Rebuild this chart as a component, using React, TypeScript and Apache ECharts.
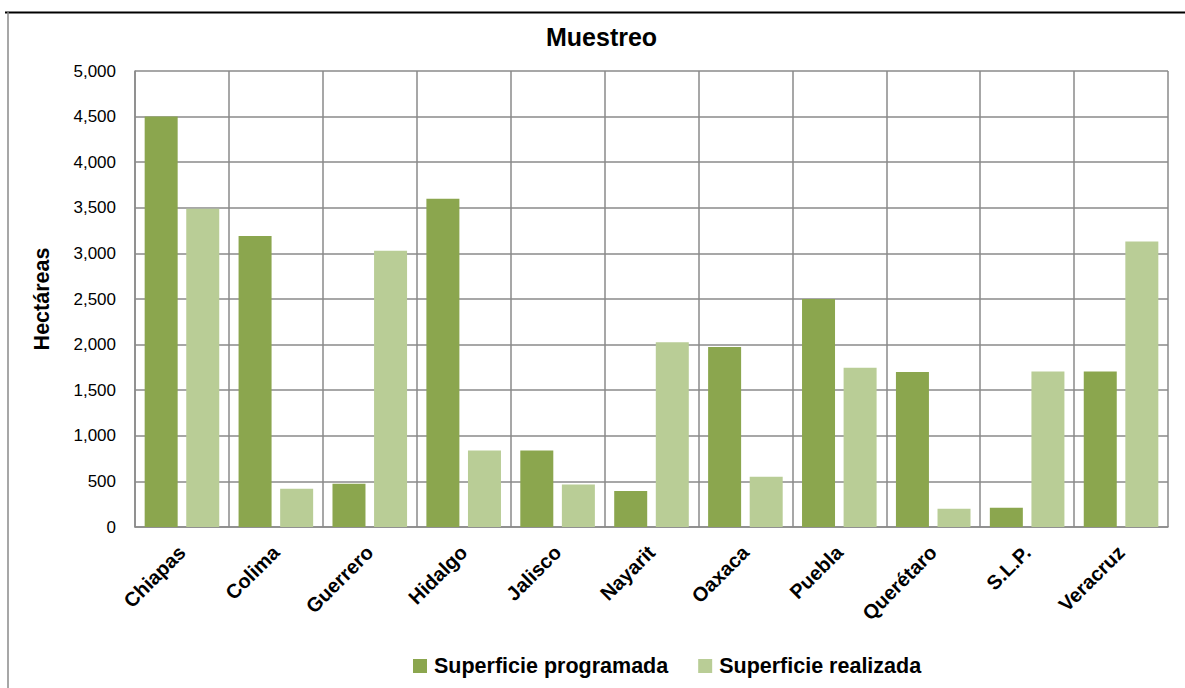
import React, { useEffect, useRef } from "react";
import * as echarts from "echarts";

const categories = ["Chiapas", "Colima", "Guerrero", "Hidalgo", "Jalisco", "Nayarit", "Oaxaca", "Puebla", "Querétaro", "S.L.P.", "Veracruz"];
const programada = [4500, 3190, 475, 3600, 840, 395, 1975, 2500, 1700, 210, 1705];
const realizada = [3490, 420, 3030, 840, 465, 2025, 550, 1745, 200, 1705, 3130];
const seriesNames = ["Superficie programada", "Superficie realizada"];
const yTicks = { min: 0, max: 5000, interval: 500 };

const SANS = "'Liberation Sans', Arial, sans-serif";

export default function App() {
  const ref = useRef<HTMLDivElement>(null);
  useEffect(() => {
    if (!ref.current) return;
    const chart = echarts.init(ref.current, null, { renderer: "svg" });
    const gridColor = "#8a8a8a";
    chart.setOption({
      animation: false,
      backgroundColor: "#ffffff",
      title: {
        text: "Muestreo",
        left: 546,
        top: 24,
        padding: 0,
        textStyle: { fontFamily: SANS, fontWeight: "bold", fontSize: 25, color: "#000" },
      },
      legend: {
        data: seriesNames,
        left: 413,
        top: 655,
        padding: 0,
        itemWidth: 14,
        itemHeight: 14,
        itemGap: 30,
        icon: "rect",
        textStyle: { fontFamily: SANS, fontWeight: "bold", fontSize: 21.5, color: "#000", padding: [0, 0, 0, 2] },
      },
      grid: { left: 135, right: 17, top: 71, bottom: 161, containLabel: false },
      xAxis: {
        type: "category",
        data: categories,
        boundaryGap: true,
        axisLine: { show: true, lineStyle: { color: gridColor, width: 1.5 } },
        axisTick: { show: false },
        splitLine: { show: true, interval: 0, lineStyle: { color: gridColor, width: 1.5 } },
        axisLabel: {
          interval: 0,
          rotate: 45,
          margin: 22,
          fontFamily: SANS,
          fontWeight: "bold",
          fontSize: 20,
          color: "#000",
        },
      },
      yAxis: {
        type: "value",
        min: yTicks.min,
        max: yTicks.max,
        interval: yTicks.interval,
        name: "Hectáreas",
        nameLocation: "middle",
        nameGap: 82,
        nameTextStyle: { fontFamily: SANS, fontWeight: "bold", fontSize: 21.5, color: "#000" },
        axisLine: { show: true, lineStyle: { color: gridColor, width: 1.5 } },
        axisTick: { show: false },
        splitLine: { show: true, lineStyle: { color: gridColor, width: 1.5 } },
        axisLabel: {
          margin: 19,
          fontFamily: SANS,
          fontSize: 17,
          color: "#000",
          formatter: (v: number) => v.toLocaleString("en-US"),
        },
      },
      series: [
        {
          name: seriesNames[0],
          type: "bar",
          data: programada,
          barWidth: 33,
          barGap: "26%",
          itemStyle: { color: "#8BA64E" },
        },
        {
          name: seriesNames[1],
          type: "bar",
          data: realizada,
          barWidth: 33,
          itemStyle: { color: "#B9CD96" },
        },
      ],
      graphic: [
        { type: "line", shape: { x1: 5, y1: 12.5, x2: 1185, y2: 12.5 }, style: { stroke: "#000", lineWidth: 2 }, z: 10 },
        { type: "line", shape: { x1: 8, y1: 12, x2: 8, y2: 688 }, style: { stroke: "#8a8a8a", lineWidth: 1.5 }, z: 10 },
      ],
    });
    return () => chart.dispose();
  }, []);
  return <div ref={ref} style={{ position: "absolute", left: 0, top: 0, width: 1185, height: 688 }} />;
}
